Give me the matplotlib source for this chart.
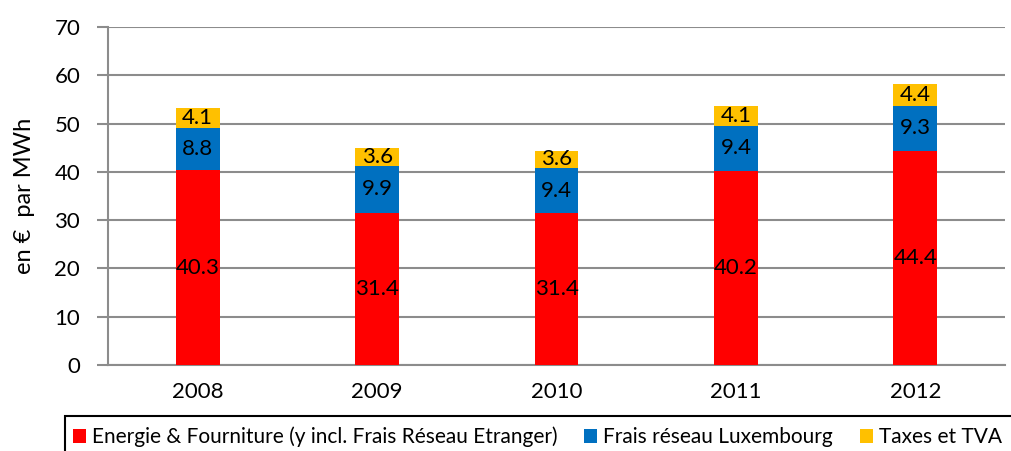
import numpy as np
import matplotlib.pyplot as plt
from matplotlib.patches import Patch, Rectangle

years = ["2008", "2009", "2010", "2011", "2012"]
energie = [40.3, 31.4, 31.4, 40.2, 44.4]
reseau = [8.8, 9.9, 9.4, 9.4, 9.3]
taxes = [4.1, 3.6, 3.6, 4.1, 4.4]
series_names = ["Energie & Fourniture (y incl. Frais Réseau Etranger)",
                "Frais réseau Luxembourg", "Taxes et TVA"]
colors = ["#FF0000", "#0070C0", "#FFC000"]

plt.rcParams['font.family'] = ['Lato', 'DejaVu Sans']

fig = plt.figure(figsize=(10.11, 4.51), dpi=100)
ax = fig.add_axes([108 / 1011, 1 - 365 / 451, 897 / 1011, 338 / 451])

x = np.arange(len(years))
width = 0.245
bottom = np.zeros(len(years))
for vals, col in zip([energie, reseau, taxes], colors):
    bars = ax.bar(x, vals, width, bottom=bottom, color=col, zorder=3)
    ax.bar_label(bars, labels=[f"{v:.1f}" for v in vals], label_type='center',
                 fontsize=16, color='black')
    bottom += np.array(vals)

ax.set_xlim(-0.5, len(years) - 0.5)
ax.set_ylim(0, 70)
ax.set_yticks(range(0, 71, 10))
ax.set_xticks(x)
ax.set_xticklabels(years)
ax.tick_params(axis='y', labelsize=16, length=8, width=1.5, color='#8c8c8c', pad=12)
ax.tick_params(axis='x', labelsize=16, length=0, pad=12)
ax.yaxis.grid(True, color='#8c8c8c', linewidth=1.5, zorder=0)
ax.set_axisbelow(True)
for s in ['top', 'right']:
    ax.spines[s].set_visible(False)
for s in ['left', 'bottom']:
    ax.spines[s].set_color('#8c8c8c')
    ax.spines[s].set_linewidth(1.5)
ax.set_ylabel("en €  par MWh", fontsize=17, labelpad=14)

# legend box runs off the right and bottom edges like in the source
fig.patches.append(Rectangle((65 / 1011, -0.1), 1.0, (451 - 416) / 451 + 0.1,
                             transform=fig.transFigure, fill=False,
                             edgecolor='black', linewidth=1.5))
handles = [Patch(facecolor=c, edgecolor='none') for c in colors]
fig.legend(handles, series_names, loc='center left',
           bbox_to_anchor=(73 / 1011, 1 - 437 / 451), ncol=3, fontsize=15,
           frameon=False, handlelength=0.6, handleheight=0.6, handletextpad=0.3,
           columnspacing=1.3, borderaxespad=0, borderpad=0)

fig.savefig("out.png", dpi=100)
